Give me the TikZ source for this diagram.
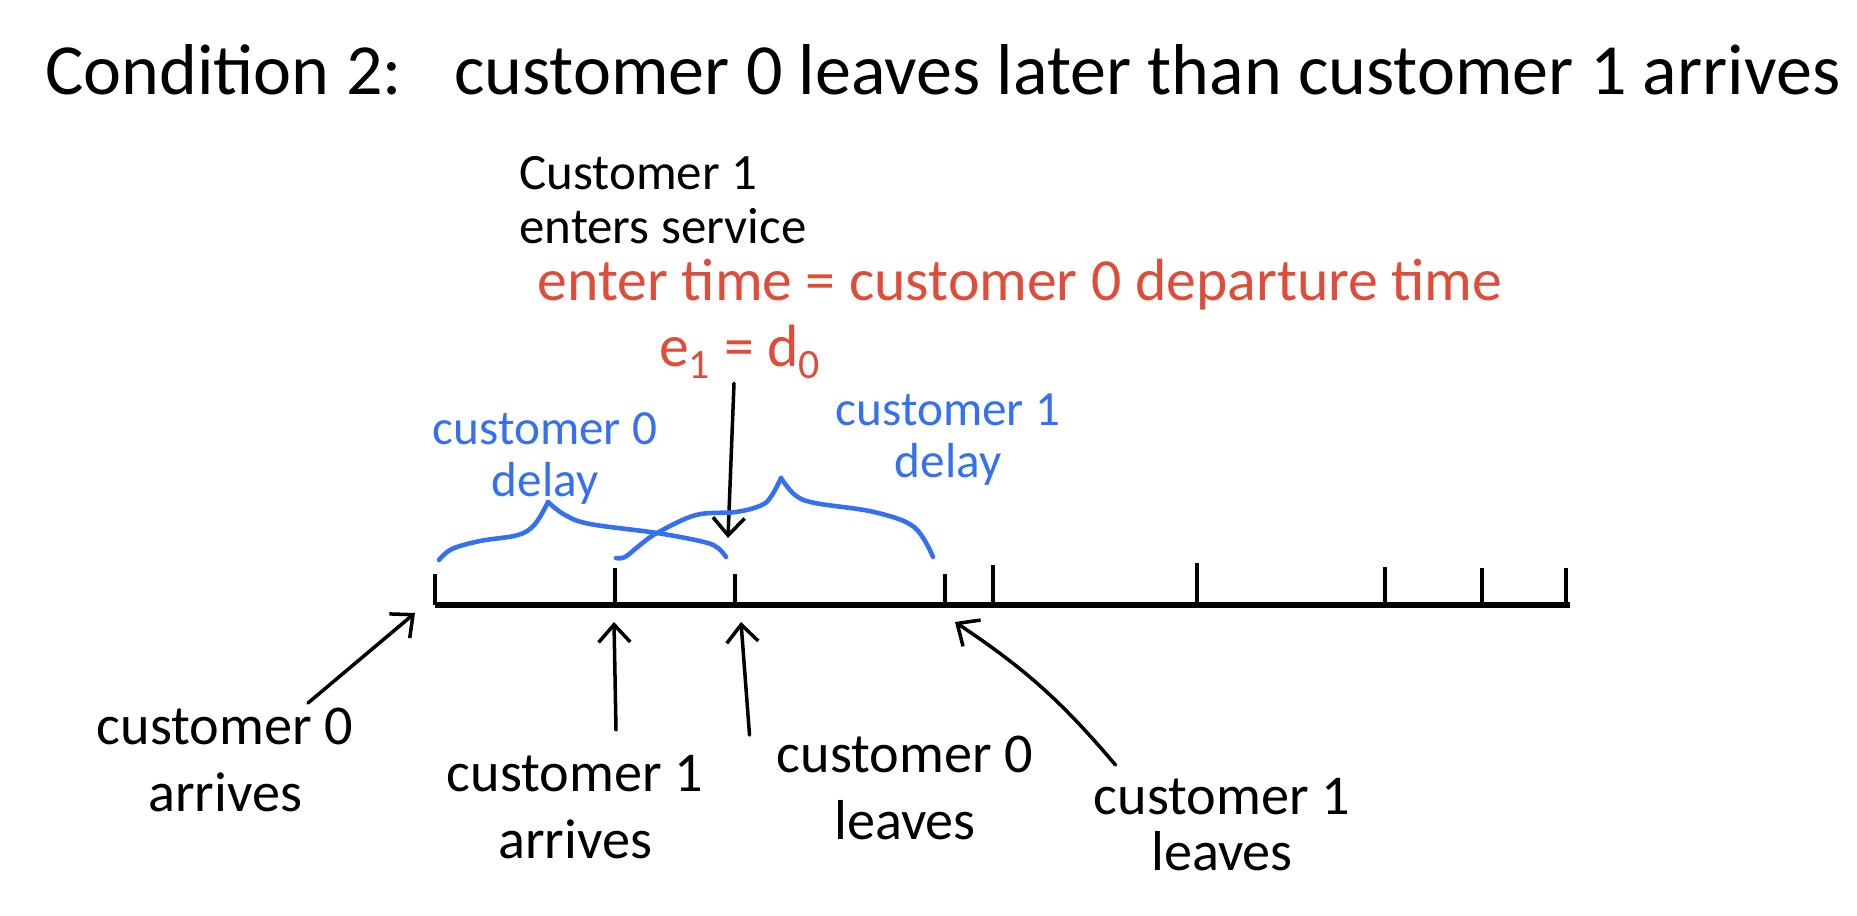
\documentclass[tikz,border=0pt]{standalone}
\usepackage{fontspec}
\setmainfont{Carlito}
\usepackage{tikz}
\usetikzlibrary{arrows.meta,positioning,calc}
\definecolor{inkred}{RGB}{224,76,56}
\definecolor{inkblue}{RGB}{52,112,240}

\tikzset{
  handtext/.style={font=\fontsize{32}{38}\selectfont, align=center, inner sep=0pt},
  redtext/.style={text=inkred, font=\fontsize{34}{40}\selectfont, inner sep=0pt},
  bluetext/.style={text=inkblue, font=\fontsize{28}{30}\selectfont, align=center, inner sep=0pt},
  tickmark/.style={line width=2pt},
  pointer/.style={-{Straight Barb[length=10pt,width=18pt]}, line width=2pt, line cap=round},
  bracepen/.style={inkblue, line width=2.6pt, line cap=round, line join=round}
}

\begin{document}
\begin{tikzpicture}[x=0.02cm, y=-0.02cm]
    \useasboundingbox (0,0) rectangle (1857,916);

    % title
    \node[anchor=west, inner sep=0pt, font=\fontsize{41}{44}\selectfont] (title) at (45,70)
        {Condition 2:\enspace\ customer 0 leaves later than customer 1 arrives};

    % time line
    \draw[line width=3pt] (435,605) -- (1570,605);
    \foreach \x/\h [count=\i] in {435/31,615/37,735/31,945/31,993/40,1197/42,1385/38,1482/37,1566/37}
        {\draw[tickmark] (\x,605) coordinate (t\i) -- ++(0,-\h);}

    % service start
    \node[anchor=north west, align=left, inner sep=0pt, font=\fontsize{29}{31}\selectfont] (enters) at (519,156)
        {Customer 1\\enters service};
    \node[redtext] (entertime) at (1020,285) {enter time = customer 0 departure time};
    \node[redtext] (e1d0) at (740,352) {e\textsubscript{1} = d\textsubscript{0}};
    \draw[pointer] ($(e1d0.south)+(-6,4)$) -- ($(t3)+(-7,-67)$);

    % delays
    \node[bluetext, anchor=north] (delay0) at (545,412) {customer 0\\delay};
    \node[bluetext, anchor=north] (delay1) at (948,393) {customer 1\\delay};
    \draw[bracepen] plot[smooth, tension=0.6] coordinates {(439,560) (452,549) (480,541) (518,535) (535,524) (548,502)};
    \draw[bracepen] plot[smooth, tension=0.6] coordinates {(548,502) (565,515) (590,524) (657,533) (704,542) (718,548) (726,557)};
    \draw[bracepen] plot[smooth, tension=0.6] coordinates {(616,558) (625,557) (640,545) (657,533) (696,515) (736,512) (762,505) (772,495) (781,478)};
    \draw[bracepen] plot[smooth, tension=0.6] coordinates {(781,478) (795,495) (815,503) (874,512) (914,527) (933,557)};

    % events
    \node[handtext, anchor=north] (c0arr) at (225,708) {customer 0\\arrives};
    \node[handtext, anchor=north] (c1arr) at (575,755) {customer 1\\arrives};
    \node[handtext, anchor=north] (c0leave) at (905,736) {customer 0\\leaves};
    \node[handtext, anchor=north, font=\fontsize{32}{32}\selectfont] (c1leave) at (1222,778) {customer 1\\leaves};

    \draw[pointer] ($(c0arr.north)+(83,-5)$) -- ($(t1)+(-20,8)$);
    \draw[pointer] ($(c1arr.north)+(41,-25)$) -- ($(t2)+(-1,17)$);
    \draw[pointer] ($(c0leave.north west)+(-27,-1)$) -- ($(t3)+(6,17)$);
    \draw[pointer] ($(c1leave.north west)+(22,-13)$) to[bend right=8] ($(t4)+(10,17)$);
\end{tikzpicture}
\end{document}
